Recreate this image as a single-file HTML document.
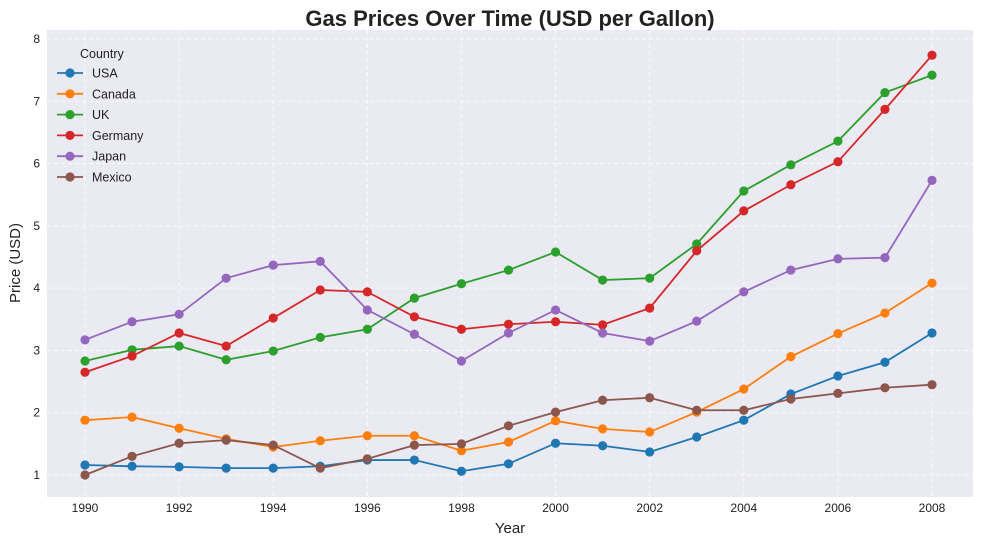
<!DOCTYPE html>
<html><head><meta charset="utf-8"><style>
body{margin:0;background:#fff;font-family:"Liberation Sans",sans-serif}
svg text{font-family:"Liberation Sans",sans-serif;fill:#222}
</style></head><body>
<svg id="chart" width="983" height="545" xmlns="http://www.w3.org/2000/svg">
<rect x="47" y="30" width="926" height="467" fill="#eaeaf2"/>
<g id="grid"></g><g id="series"></g><g id="axes"></g>
<text x="510" y="26" text-anchor="middle" font-size="22" font-weight="bold">Gas Prices Over Time (USD per Gallon)</text>
<text x="510" y="533" text-anchor="middle" font-size="15">Year</text>
<text x="20" y="263" text-anchor="middle" font-size="15" transform="rotate(-90 20 263)">Price (USD)</text>
<g id="legend"></g>
</svg>
<script>
const years=[1990,1991,1992,1993,1994,1995,1996,1997,1998,1999,2000,2001,2002,2003,2004,2005,2006,2007,2008];
const xTicks=[1990,1992,1994,1996,1998,2000,2002,2004,2006,2008];
const yTicks=[1,2,3,4,5,6,7,8];
const countries=["USA","Canada","UK","Germany","Japan","Mexico"];
const colors=["#1f77b4","#ff7f0e","#2ca02c","#d62728","#9467bd","#8c564b"];
const usa=[1.16,1.14,1.13,1.11,1.11,1.14,1.24,1.24,1.06,1.18,1.51,1.47,1.37,1.61,1.88,2.30,2.59,2.81,3.28];
const canada=[1.88,1.93,1.75,1.58,1.45,1.55,1.63,1.63,1.39,1.53,1.87,1.74,1.69,2.01,2.38,2.90,3.27,3.60,4.08];
const uk=[2.83,3.01,3.07,2.85,2.99,3.21,3.34,3.84,4.07,4.29,4.58,4.13,4.16,4.71,5.56,5.98,6.36,7.14,7.42];
const germany=[2.65,2.91,3.28,3.07,3.52,3.97,3.94,3.54,3.34,3.42,3.46,3.41,3.68,4.60,5.24,5.66,6.03,6.87,7.74];
const japan=[3.17,3.46,3.58,4.16,4.37,4.43,3.65,3.26,2.83,3.28,3.65,3.28,3.15,3.47,3.94,4.29,4.47,4.49,5.73];
const mexico=[1.0,1.30,1.51,1.56,1.48,1.11,1.26,1.48,1.50,1.79,2.01,2.20,2.24,2.04,2.04,2.22,2.31,2.40,2.45];
const seriesData=[usa,canada,uk,germany,japan,mexico];
const NS="http://www.w3.org/2000/svg";
const X=y=>85+(y-1990)*(932-85)/18;
const Y=v=>475-(v-1)*(436/7);
function mk(t,a,p){const e=document.createElementNS(NS,t);for(const k in a)e.setAttribute(k,a[k]);p.appendChild(e);return e;}
const grid=document.getElementById('grid'),axes=document.getElementById('axes'),ser=document.getElementById('series'),leg=document.getElementById('legend');
xTicks.forEach(t=>{const l=mk('line',{x1:X(t),x2:X(t),y1:30,y2:497,stroke:'#fff','stroke-dasharray':'4 3','stroke-width':0.8},grid);

const tx=mk('text',{x:X(t),y:512,'text-anchor':'middle','font-size':12},axes);tx.textContent=t;
});
yTicks.forEach(t=>{const l=mk('line',{x1:47,x2:973,y1:Y(t),y2:Y(t),stroke:'#fff','stroke-dasharray':'4 3','stroke-width':0.8},grid);

const tx=mk('text',{x:40,y:Y(t)+4,'text-anchor':'end','font-size':12},axes);tx.textContent=t;
});
seriesData.forEach((d,i)=>{const g=mk('g',{},ser);

const p=mk('polyline',{points:d.map((v,j)=>X(years[j])+','+Y(v)).join(' '),fill:'none',stroke:colors[i],'stroke-width':1.8},g);

d.forEach((v,j)=>{const c=mk('circle',{cx:X(years[j]),cy:Y(v),r:4.6,fill:colors[i]},g);
});
const ly=73+i*20.8;
const ll=mk('line',{x1:57,x2:83,y1:ly,y2:ly,stroke:colors[i],'stroke-width':1.8},leg);

const lc=mk('circle',{cx:70,cy:ly,r:4.6,fill:colors[i]},leg);

const lt=mk('text',{x:92,y:ly+4.5,'font-size':12.5},leg);lt.textContent=countries[i];
});
const tt=mk('text',{x:80,y:58,'font-size':12.5},leg);tt.textContent='Country';

</script>
</body></html>
